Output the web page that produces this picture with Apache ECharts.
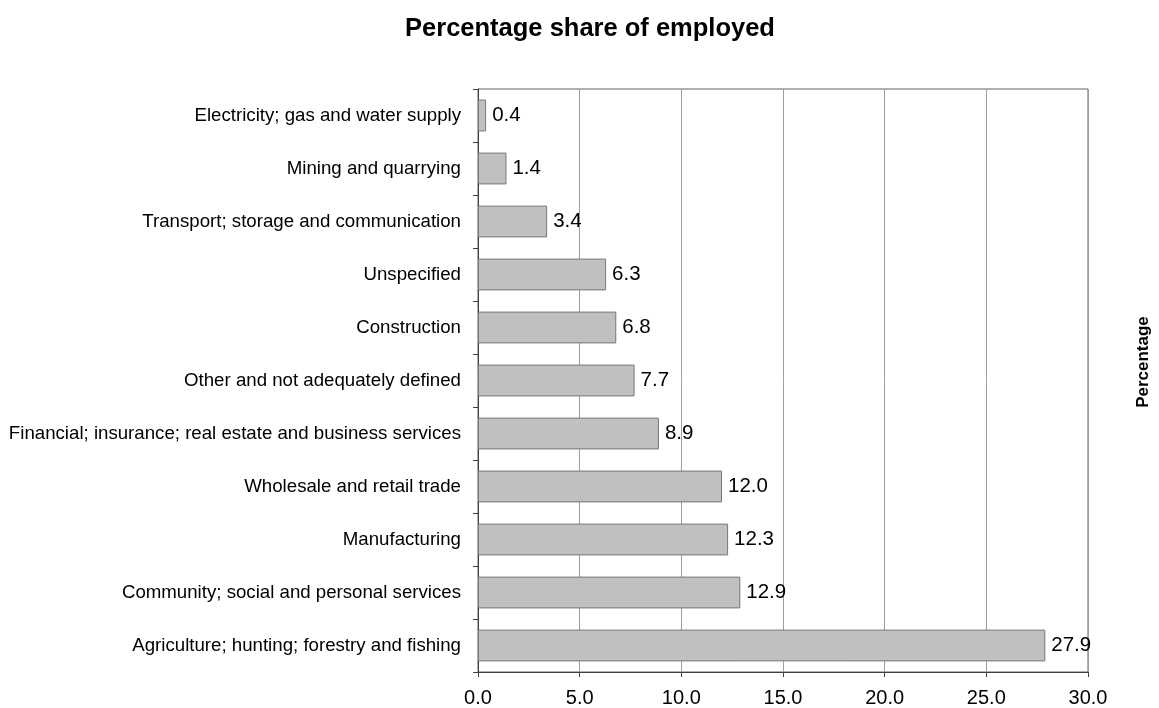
<!DOCTYPE html>
<html>
<head>
<meta charset="utf-8">
<title>Percentage share of employed</title>
<script src="https://cdn.jsdelivr.net/npm/echarts@6/dist/echarts.min.js"></script>
<style>
  html, body { margin: 0; padding: 0; background: #ffffff; }
  #chart { width: 1159px; height: 708px; }
</style>
</head>
<body>
<div id="chart"></div>
<script>
// Industries, listed top to bottom
const industries = [
  'Electricity; gas and water supply',
  'Mining and quarrying',
  'Transport; storage and communication',
  'Unspecified',
  'Construction',
  'Other and not adequately defined',
  'Financial; insurance; real estate and business services',
  'Wholesale and retail trade',
  'Manufacturing',
  'Community; social and personal services',
  'Agriculture; hunting; forestry and fishing'
];

// Share of employed persons, percent
const shares = [0.4, 1.4, 3.4, 6.3, 6.8, 7.7, 8.9, 12.0, 12.3, 12.9, 27.9];

// Value axis range
const axisMin = 0;
const axisMax = 30;
const axisStep = 5;

const FONT = '"Liberation Sans", Arial, sans-serif';

const chart = echarts.init(document.getElementById('chart'), null, { renderer: 'canvas' });

chart.setOption({
  backgroundColor: '#ffffff',
  animation: false,
  title: {
    text: 'Percentage share of employed',
    left: 585,
    top: 11,
    textAlign: 'center',
    textStyle: { fontFamily: FONT, fontSize: 25.5, fontWeight: 'bold', color: '#000000' }
  },
  grid: {
    left: 478,
    right: 71,
    top: 89,
    bottom: 36,
    show: true,
    borderColor: '#606060',
    borderWidth: 1,
    backgroundColor: 'transparent'
  },
  xAxis: {
    type: 'value',
    min: axisMin,
    max: axisMax,
    interval: axisStep,
    axisLine: { show: true, lineStyle: { color: '#404040', width: 1 } },
    axisTick: { show: true, length: 5, lineStyle: { color: '#404040' } },
    splitLine: { show: true, lineStyle: { color: '#9e9e9e', width: 1 } },
    axisLabel: {
      margin: 16,
      fontFamily: FONT,
      fontSize: 20,
      color: '#000000',
      formatter: v => v.toFixed(1)
    }
  },
  yAxis: {
    type: 'category',
    data: industries,
    inverse: true,
    axisLine: { show: true, lineStyle: { color: '#404040', width: 1 } },
    axisTick: { show: true, length: 5, lineStyle: { color: '#404040' } },
    splitLine: { show: false },
    axisLabel: {
      margin: 17,
      fontFamily: FONT,
      fontSize: 18.67,
      color: '#000000'
    }
  },
  graphic: [{
    type: 'text',
    x: 1143,
    y: 362,
    rotation: Math.PI / 2,
    style: {
      text: 'Percentage',
      fontFamily: FONT,
      fontSize: 17,
      fontWeight: 'bold',
      fill: '#000000',
      textAlign: 'center',
      textVerticalAlign: 'middle'
    }
  }],
  series: [{
    type: 'bar',
    data: shares,
    barCategoryGap: '40%',
    itemStyle: { color: '#c0c0c0', borderColor: '#777777', borderWidth: 1 },
    label: {
      show: true,
      position: 'right',
      distance: 6,
      fontFamily: FONT,
      fontSize: 20.5,
      color: '#000000',
      formatter: p => p.value.toFixed(1)
    }
  }]
});
</script>
</body>
</html>
